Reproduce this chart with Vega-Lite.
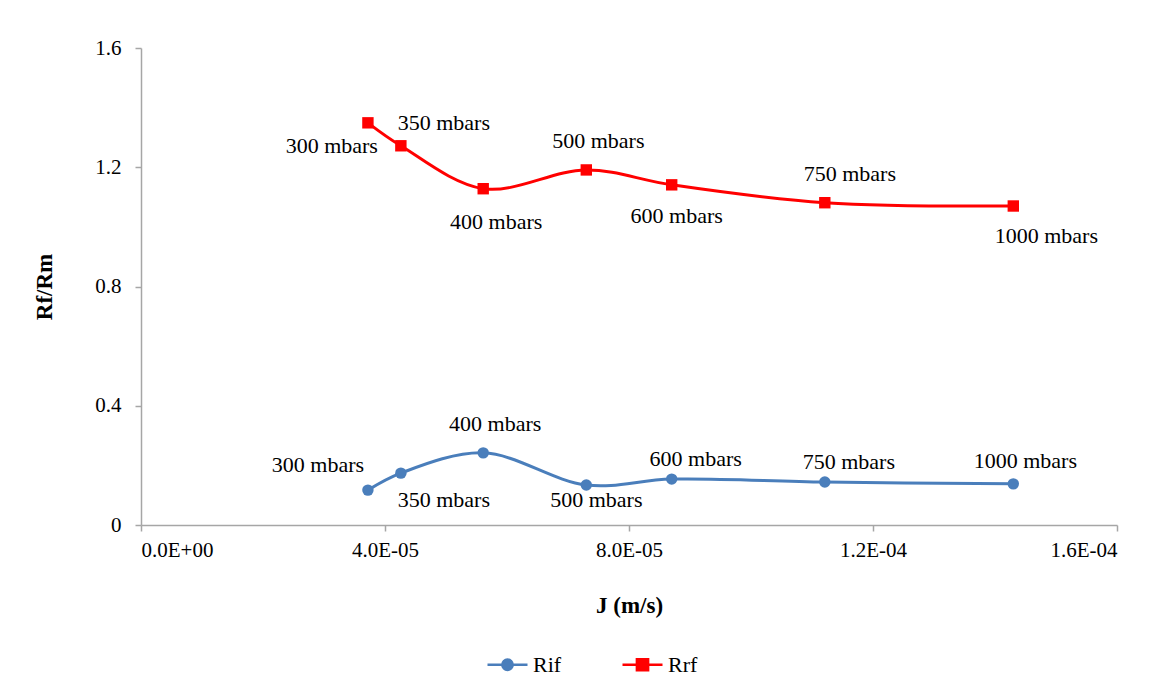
{
  "$schema": "https://vega.github.io/schema/vega-lite/v6.json",
  "width": 976,
  "height": 477,
  "autosize": {"type": "none"},
  "padding": {"left": 141, "top": 48, "right": 59, "bottom": 170},
  "background": "white",
  "config": {
    "font": "Liberation Serif",
    "text": {"font": "Liberation Serif", "fontSize": 22, "color": "#000000"},
    "view": {"stroke": null},
    "legend": {"labelFont": "Liberation Serif"},
    "axis": {
      "grid": false,
      "domainColor": "#a6a6a6",
      "tickColor": "#a6a6a6",
      "domainWidth": 1.5,
      "tickWidth": 1.5,
      "tickSize": 6,
      "labelFont": "Liberation Serif",
      "labelFontSize": 21,
      "labelColor": "#000000",
      "titleFont": "Liberation Serif",
      "titleFontSize": 23,
      "titleFontWeight": "bold",
      "titleColor": "#000000"
    }
  },
  "data": {
    "values": [
      {"series": "Rif", "p": 300, "J": 0.0000372, "value": 0.117, "label": "300 mbars"},
      {"series": "Rif", "p": 350, "J": 0.0000426, "value": 0.174, "label": "350 mbars"},
      {"series": "Rif", "p": 400, "J": 0.0000561, "value": 0.242, "label": "400 mbars"},
      {"series": "Rif", "p": 500, "J": 0.0000730, "value": 0.134, "label": "500 mbars"},
      {"series": "Rif", "p": 600, "J": 0.0000870, "value": 0.154, "label": "600 mbars"},
      {"series": "Rif", "p": 750, "J": 0.0001121, "value": 0.144, "label": "750 mbars"},
      {"series": "Rif", "p": 1000, "J": 0.0001430, "value": 0.138, "label": "1000 mbars"},
      {"series": "Rrf", "p": 300, "J": 0.0000372, "value": 1.349, "label": "300 mbars"},
      {"series": "Rrf", "p": 350, "J": 0.0000426, "value": 1.272, "label": "350 mbars"},
      {"series": "Rrf", "p": 400, "J": 0.0000561, "value": 1.128, "label": "400 mbars"},
      {"series": "Rrf", "p": 500, "J": 0.0000730, "value": 1.191, "label": "500 mbars"},
      {"series": "Rrf", "p": 600, "J": 0.0000870, "value": 1.141, "label": "600 mbars"},
      {"series": "Rrf", "p": 750, "J": 0.0001121, "value": 1.081, "label": "750 mbars"},
      {"series": "Rrf", "p": 1000, "J": 0.0001430, "value": 1.070, "label": "1000 mbars"}
    ]
  },
  "encoding": {
    "x": {
      "field": "J",
      "type": "quantitative",
      "scale": {"domain": [0, 0.00016], "nice": false, "zero": true},
      "axis": {
        "title": "J (m/s)",
        "values": [0, 0.00004, 0.00008, 0.00012, 0.00016],
        "labelExpr": "datum.value == 0 ? '0.0E+00' : format(datum.value / pow(10, floor(log(datum.value) / LN10)), '.1f') + 'E-' + format(-floor(log(datum.value) / LN10), '02d')",
        "labelPadding": 8,
        "titlePadding": 34
      }
    },
    "y": {
      "field": "value",
      "type": "quantitative",
      "scale": {"domain": [0, 1.6], "nice": false},
      "axis": {
        "title": "Rf/Rm",
        "values": [0, 0.4, 0.8, 1.2, 1.6],
        "labelExpr": "datum.value == 0 ? '0' : format(datum.value, '.1f')",
        "labelPadding": 14,
        "titlePadding": 38
      }
    }
  },
  "layer": [
    {
      "mark": {"type": "line", "interpolate": "catmull-rom", "strokeWidth": 3},
      "encoding": {
        "color": {
          "field": "series",
          "type": "nominal",
          "scale": {"domain": ["Rif", "Rrf"], "range": ["#4a7ebb", "#ff0000"]},
          "legend": {
            "title": null,
            "orient": "none",
            "direction": "horizontal",
            "legendX": 345,
            "legendY": 595,
            "labelFont": "Liberation Serif",
            "labelFontSize": 22,
            "labelColor": "#000000",
            "symbolSize": 1600,
            "symbolStrokeWidth": 2.5,
            "labelOffset": 4,
            "columnPadding": 55,
            "encode": {
              "symbols": {
                "update": {
                  "shape": {"signal": "datum.value == 'Rif' ? 'M-1,0H1M-0.26,0A0.26,0.26 0 1,0 0.26,0A0.26,0.26 0 1,0 -0.26,0Z' : 'M-1,0H1M-0.28,-0.28H0.28V0.28H-0.28Z'"},
                  "fill": {"signal": "scale('color', datum.value)"},
                  "stroke": {"signal": "scale('color', datum.value)"},
                  "strokeWidth": {"value": 2.5}
                }
              }
            }
          }
        }
      }
    },
    {
      "transform": [{"filter": "datum.series == 'Rif'"}],
      "mark": {"type": "point", "filled": true, "opacity": 1, "shape": "circle", "size": 130, "color": "#4a7ebb"},
      "encoding": {}
    },
    {
      "transform": [{"filter": "datum.series == 'Rrf'"}],
      "mark": {"type": "point", "filled": true, "opacity": 1, "shape": "square", "size": 130, "color": "#ff0000"},
      "encoding": {}
    },
    {"transform": [{"filter": "datum.series == 'Rrf' && datum.p == 300"}],
     "mark": {"type": "text", "font": "Liberation Serif", "fontSize": 22, "align": "right", "baseline": "middle", "dx": 10, "dy": 23},
     "encoding": {"text": {"field": "label"}}},
    {"transform": [{"filter": "datum.series == 'Rrf' && datum.p == 350"}],
     "mark": {"type": "text", "font": "Liberation Serif", "fontSize": 22, "baseline": "middle", "dx": 43, "dy": -23},
     "encoding": {"text": {"field": "label"}}},
    {"transform": [{"filter": "datum.series == 'Rrf' && datum.p == 400"}],
     "mark": {"type": "text", "font": "Liberation Serif", "fontSize": 22, "baseline": "middle", "dx": 13, "dy": 33},
     "encoding": {"text": {"field": "label"}}},
    {"transform": [{"filter": "(datum.series == 'Rrf' && datum.p == 500) || (datum.series == 'Rif' && datum.p == 400)"}],
     "mark": {"type": "text", "font": "Liberation Serif", "fontSize": 22, "baseline": "middle", "dx": 12, "dy": -29},
     "encoding": {"text": {"field": "label"}}},
    {"transform": [{"filter": "datum.series == 'Rrf' && datum.p == 600"}],
     "mark": {"type": "text", "font": "Liberation Serif", "fontSize": 22, "baseline": "middle", "dx": 5, "dy": 31},
     "encoding": {"text": {"field": "label"}}},
    {"transform": [{"filter": "datum.series == 'Rrf' && datum.p == 750"}],
     "mark": {"type": "text", "font": "Liberation Serif", "fontSize": 22, "baseline": "middle", "dx": 25, "dy": -29},
     "encoding": {"text": {"field": "label"}}},
    {"transform": [{"filter": "datum.series == 'Rrf' && datum.p == 1000"}],
     "mark": {"type": "text", "font": "Liberation Serif", "fontSize": 22, "baseline": "middle", "dx": 33, "dy": 30},
     "encoding": {"text": {"field": "label"}}},
    {"transform": [{"filter": "datum.series == 'Rif' && datum.p == 300"}],
     "mark": {"type": "text", "font": "Liberation Serif", "fontSize": 22, "baseline": "middle", "dx": -50, "dy": -25},
     "encoding": {"text": {"field": "label"}}},
    {"transform": [{"filter": "datum.series == 'Rif' && datum.p == 350"}],
     "mark": {"type": "text", "font": "Liberation Serif", "fontSize": 22, "baseline": "middle", "dx": 43, "dy": 27},
     "encoding": {"text": {"field": "label"}}},
    {"transform": [{"filter": "datum.series == 'Rif' && datum.p == 500"}],
     "mark": {"type": "text", "font": "Liberation Serif", "fontSize": 22, "baseline": "middle", "dx": 10, "dy": 15},
     "encoding": {"text": {"field": "label"}}},
    {"transform": [{"filter": "datum.series == 'Rif' && (datum.p == 600 || datum.p == 750)"}],
     "mark": {"type": "text", "font": "Liberation Serif", "fontSize": 22, "baseline": "middle", "dx": 24, "dy": -20},
     "encoding": {"text": {"field": "label"}}},
    {"transform": [{"filter": "datum.series == 'Rif' && datum.p == 1000"}],
     "mark": {"type": "text", "font": "Liberation Serif", "fontSize": 22, "baseline": "middle", "dx": 12, "dy": -23},
     "encoding": {"text": {"field": "label"}}}
  ]
}
